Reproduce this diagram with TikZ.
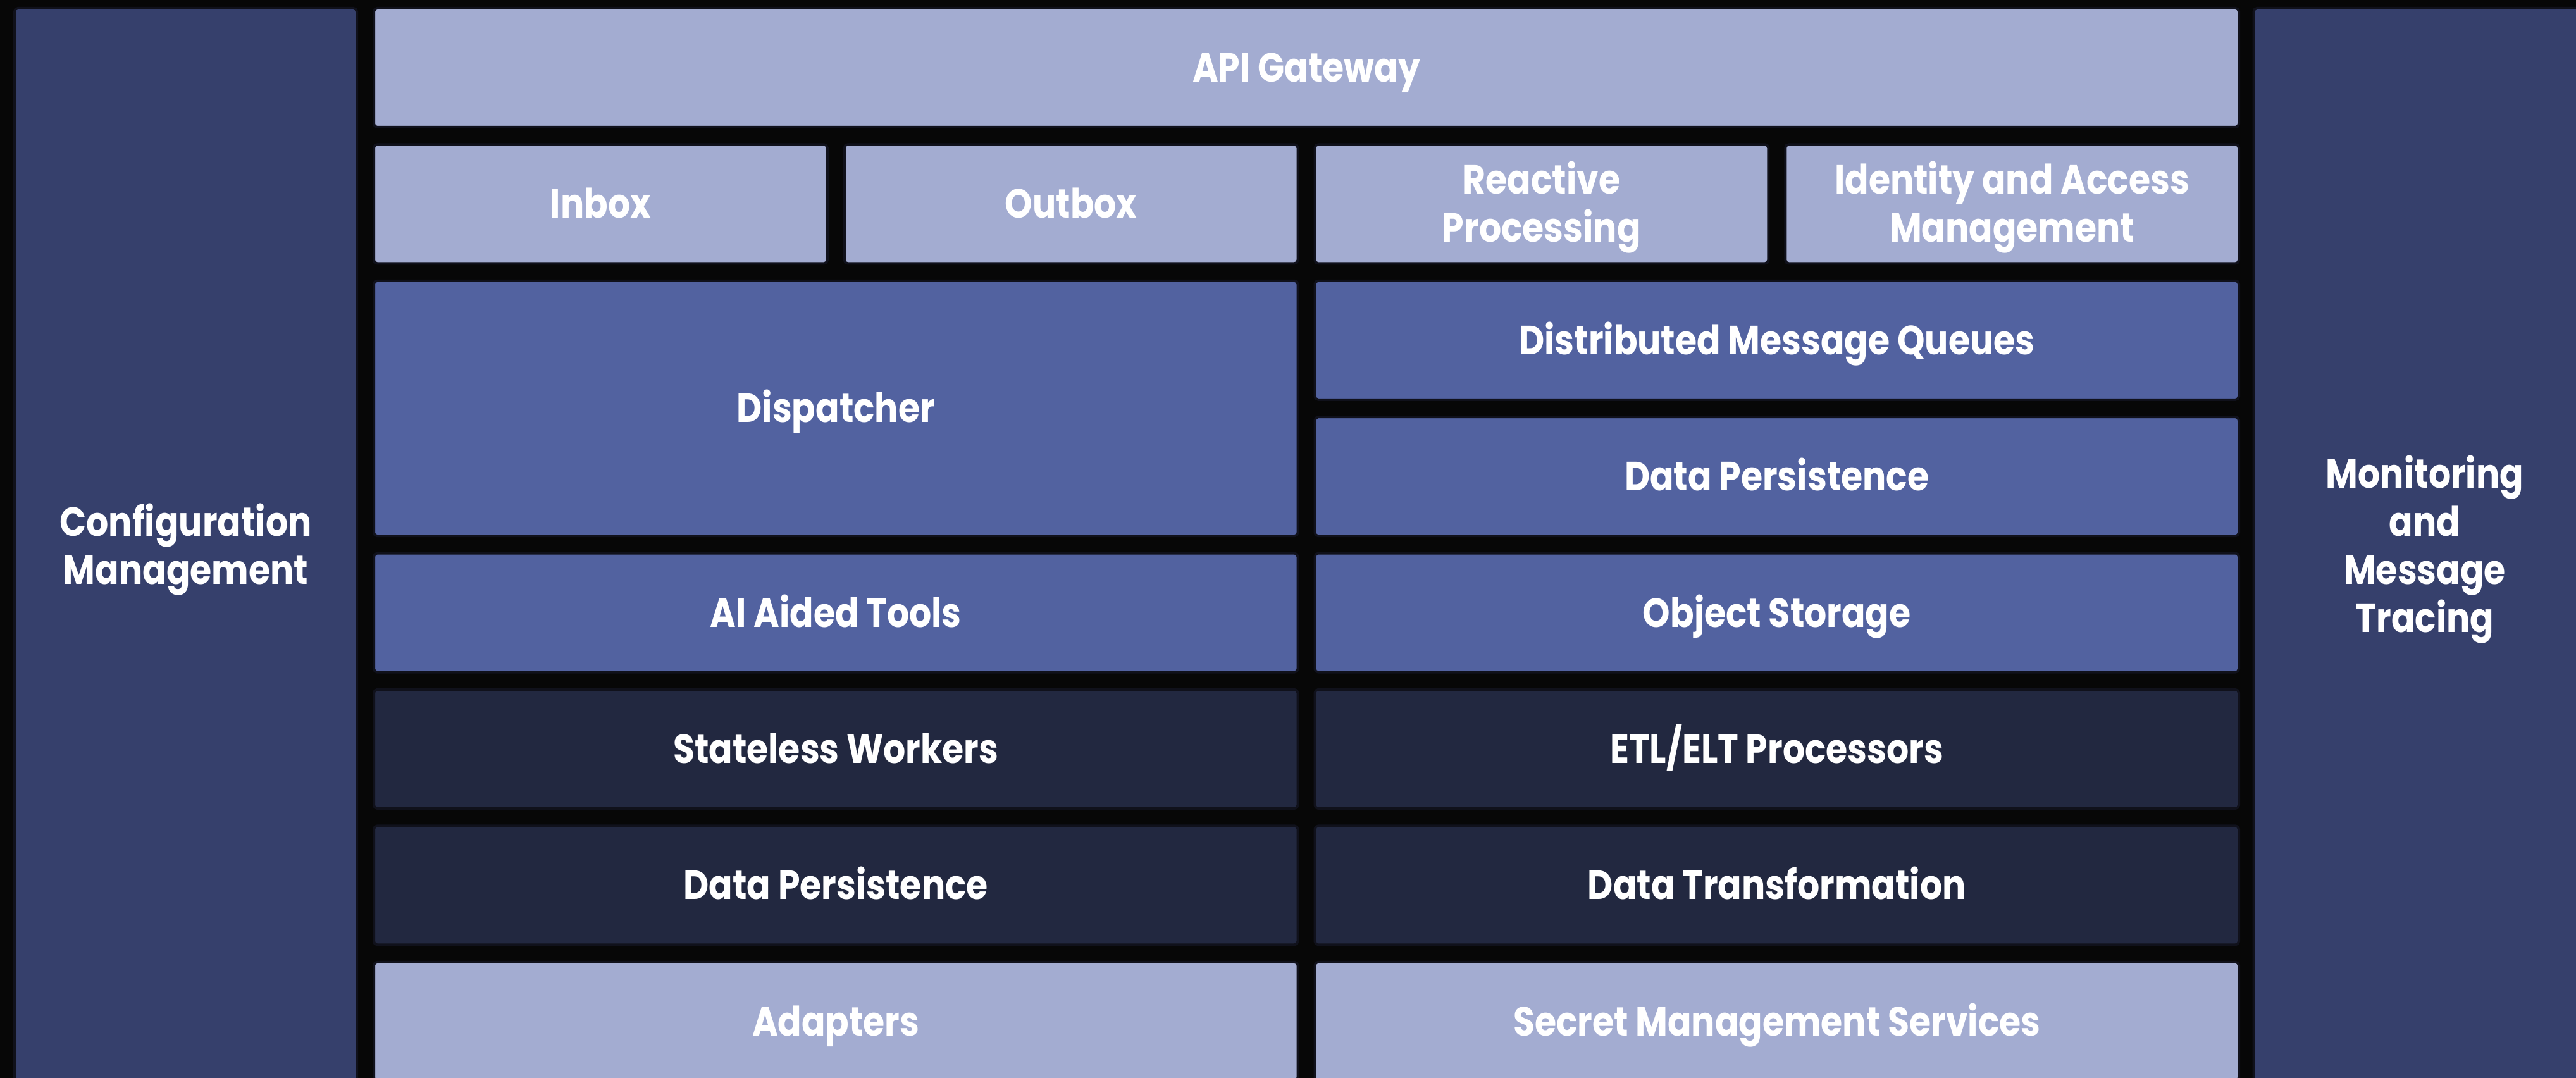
\documentclass[tikz,border=0pt]{standalone}
\usepackage{fontspec}
\setmainfont{Poppins}[FakeStretch=0.86]
\usetikzlibrary{positioning}
\definecolor{bgblack}{HTML}{070707}
\definecolor{edgeblue}{HTML}{10111B}
\definecolor{palefill}{HTML}{A3ACD1}
\definecolor{midfill}{HTML}{5262A0}
\definecolor{deepfill}{HTML}{222840}
\definecolor{sidefill}{HTML}{36406C}
\tikzset{
  blk/.style={
    draw=edgeblue,
    line width=0.04cm,
    rounded corners=1.5pt,
    text=white,
    font=\fontsize{18.3}{21.6}\selectfont\bfseries,
    align=center,
    inner sep=0pt,
    minimum height=1.88cm,
    text height=12.8pt,
    text depth=0pt,
  },
  tworows/.style={text height=34.4pt},
  fourrows/.style={text height=77.6pt},
  palebox/.style={blk, fill=palefill},
  midbox/.style={blk, fill=midfill},
  deepbox/.style={blk, fill=deepfill},
  sidebox/.style={blk, fill=sidefill, minimum width=5.41cm, minimum height=17cm},
  halfwide/.style={minimum width=14.605cm},
  quarterwide/.style={minimum width=7.1675cm},
}

\begin{document}
\begin{tikzpicture}[node distance=0.234cm and 0.23cm]
        \fill[bgblack] (0,0) rectangle (40.72,17.04);
        \useasboundingbox (0,0) rectangle (40.72,17.04);

        % side panels
        \node (config) [sidebox, tworows] at (2.935,8.41) {Configuration\\Management};
        \node (monitor) [sidebox, fourrows] at (38.33,8.41) {Monitoring\\and\\Message\\Tracing};

        % top rows
        \node (api) [palebox, minimum width=29.48cm] at (20.65,15.97) {API Gateway};
        \node (inbox) [palebox, quarterwide, below=of api.south west, anchor=north west] {Inbox};
        \node (outbox) [palebox, quarterwide, right=of inbox] {Outbox};
        \node (reactive) [palebox, quarterwide, tworows, right=of outbox] {Reactive\\Processing};
        \node (iam) [palebox, quarterwide, tworows, right=of reactive] {Identity and Access\\Management};

        % left column
        \node (dispatch) [midbox, halfwide, minimum height=4.034cm,
        below=of inbox.south west, anchor=north west] {Dispatcher};
        \node (aitools) [midbox, halfwide, below=of dispatch] {AI Aided Tools};
        \node (workers) [deepbox, halfwide, below=of aitools] {Stateless Workers};
        \node (persistl) [deepbox, halfwide, below=of workers] {Data Persistence};
        \node (adapters) [palebox, halfwide, below=of persistl] {Adapters};

        % right column
        \node (queues) [midbox, halfwide, below=of reactive.south west, anchor=north west] {Distributed Message Queues};
        \node (persistr) [midbox, halfwide, below=of queues] {Data Persistence};
        \node (objects) [midbox, halfwide, below=of persistr] {Object Storage};
        \node (etl) [deepbox, halfwide, below=of objects] {ETL/ELT Processors};
        \node (transform) [deepbox, halfwide, below=of etl] {Data Transformation};
        \node (secrets) [palebox, halfwide, below=of transform] {Secret Management Services};

      \end{tikzpicture}
\end{document}
